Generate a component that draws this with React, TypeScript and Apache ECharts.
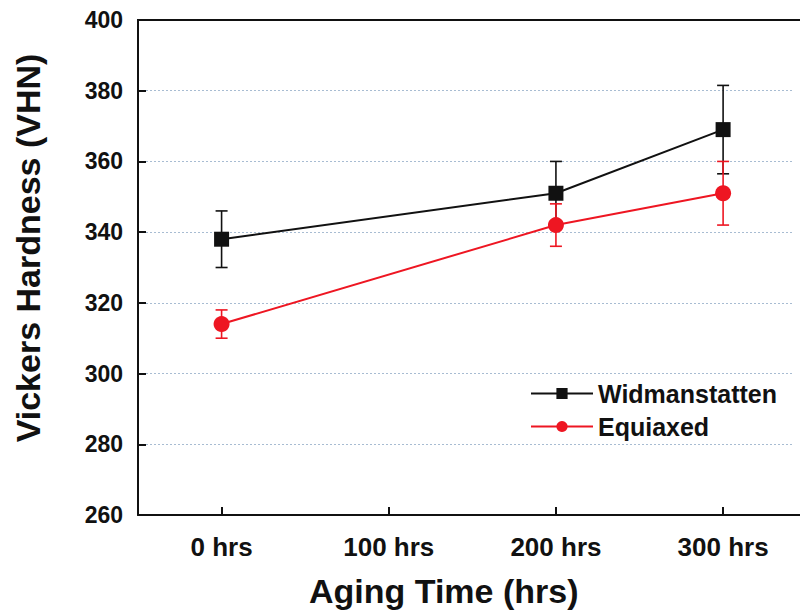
import React, { useEffect, useRef } from "react";
import * as echarts from "echarts";

// Aging time (hrs) at which hardness was measured
const hours = [0, 200, 300];
// Mean Vickers hardness and ± spread for each microstructure
const widmanstatten = [338, 351, 369];
const widmanstattenErr = [8, 9, 12.5];
const equiaxed = [314, 342, 351];
const equiaxedErr = [4, 6, 9];
// Axis ticks
const xTicks = [0, 100, 200, 300];
const xMin = -50;
const xMax = 346;
const yMin = 260;
const yMax = 400;
const yStep = 20;

const FONT = "'Liberation Sans', Arial, Helvetica, sans-serif";
const BLACK = "#111111";
const RED = "#ee1622";

function points(values: number[]) {
  return hours.map((h, i) => [h, values[i]]);
}

function errorData(values: number[], errs: number[]) {
  return hours.map((h, i) => [h, values[i] - errs[i], values[i] + errs[i]]);
}

function errorSeries(values: number[], errs: number[], color: string, z: number) {
  return {
    type: "custom",
    name: "err",
    z,
    silent: true,
    data: errorData(values, errs),
    encode: { x: 0, y: [1, 2] },
    renderItem: (params: any, api: any) => {
      const x = api.value(0);
      const lo = api.coord([x, api.value(1)]);
      const hi = api.coord([x, api.value(2)]);
      const cap = 6;
      const style = { stroke: color, lineWidth: 1.6 };
      return {
        type: "group",
        children: [
          { type: "line", shape: { x1: lo[0], y1: lo[1], x2: hi[0], y2: hi[1] }, style },
          { type: "line", shape: { x1: hi[0] - cap, y1: hi[1], x2: hi[0] + cap, y2: hi[1] }, style },
          { type: "line", shape: { x1: lo[0] - cap, y1: lo[1], x2: lo[0] + cap, y2: lo[1] }, style },
        ],
      };
    },
  };
}

export default function App() {
  const ref = useRef<HTMLDivElement>(null);

  useEffect(() => {
    if (!ref.current) return;
    const chart = echarts.init(ref.current, null, { renderer: "svg" });
    chart.setOption({
      animation: false,
      backgroundColor: "#ffffff",
      grid: {
        left: 138,
        top: 20,
        bottom: 100,
        right: 0,
        outerBoundsMode: "none",
        containLabel: false,
        show: false,
      },
      legend: {
        orient: "vertical",
        left: 530,
        top: 381,
        padding: 0,
        itemGap: 8,
        itemWidth: 62,
        itemHeight: 14,
        data: ["Widmanstatten", "Equiaxed"],
        textStyle: {
          fontFamily: FONT,
          fontWeight: "bold",
          fontSize: 25,
          lineHeight: 24,
          color: BLACK,
        },
      },
      xAxis: {
        type: "value",
        min: xMin,
        max: xMax,
        axisLine: { onZero: false, lineStyle: { color: BLACK, width: 2 } },
        axisTick: {
          inside: true,
          length: 8,
          customValues: xTicks,
          lineStyle: { color: BLACK, width: 2 },
        },
        axisLabel: {
          customValues: xTicks,
          formatter: (v: number) => `${v} hrs`,
          margin: 19,
          fontFamily: FONT,
          fontWeight: "bold",
          fontSize: 26,
          color: BLACK,
        },
        splitLine: { show: false },
        minorSplitLine: { show: false },
      },
      yAxis: {
        type: "value",
        min: yMin,
        max: yMax,
        interval: yStep,
        axisLine: { show: true, onZero: false, lineStyle: { color: BLACK, width: 2 } },
        axisTick: { inside: true, length: 8, lineStyle: { color: BLACK, width: 2 } },
        axisLabel: {
          margin: 15,
          fontFamily: FONT,
          fontWeight: "bold",
          fontSize: 23,
          color: BLACK,
        },
        splitLine: {
          show: true,
          showMinLine: false,
          showMaxLine: false,
          lineStyle: { color: "#a8bcd2", width: 1.2, type: [2, 2] },
        },
      },
      graphic: [
        {
          // keep the open right side of the plot box clear
          type: "rect",
          z: 100,
          shape: { x: 793, y: 22, width: 8, height: 491 },
          style: { fill: "#ffffff" },
        },
        {
          // top frame of the plot box
          type: "line",
          z: 101,
          shape: { x1: 137, y1: 20, x2: 800, y2: 20 },
          style: { stroke: BLACK, lineWidth: 2 },
        },
        {
          type: "text",
          left: 449 - 140,
          top: 574,
          style: {
            text: "Aging Time (hrs)",
            font: `bold 34px ${FONT}`,
            fill: BLACK,
            width: 280,
            align: "center",
          },
        },
        {
          type: "text",
          x: 28,
          y: 248,
          rotation: Math.PI / 2,
          style: {
            text: "Vickers Hardness (VHN)",
            font: `bold 34px ${FONT}`,
            fill: BLACK,
            align: "center",
            verticalAlign: "middle",
          },
        },
      ],
      series: [
        errorSeries(widmanstatten, widmanstattenErr, BLACK, 2),
        {
          type: "line",
          name: "Widmanstatten",
          z: 3,
          data: points(widmanstatten),
          symbol: "rect",
          symbolSize: 15,
          lineStyle: { color: BLACK, width: 2 },
          itemStyle: { color: BLACK },
        },
        errorSeries(equiaxed, equiaxedErr, RED, 4),
        {
          type: "line",
          name: "Equiaxed",
          z: 5,
          data: points(equiaxed),
          symbol: "circle",
          symbolSize: 16,
          lineStyle: { color: RED, width: 2 },
          itemStyle: { color: RED },
        },
      ],
    });
    return () => chart.dispose();
  }, []);

  return (
    <div
      ref={ref}
      style={{ position: "fixed", left: 0, top: 0, width: 800, height: 615, background: "#fff" }}
    />
  );
}
